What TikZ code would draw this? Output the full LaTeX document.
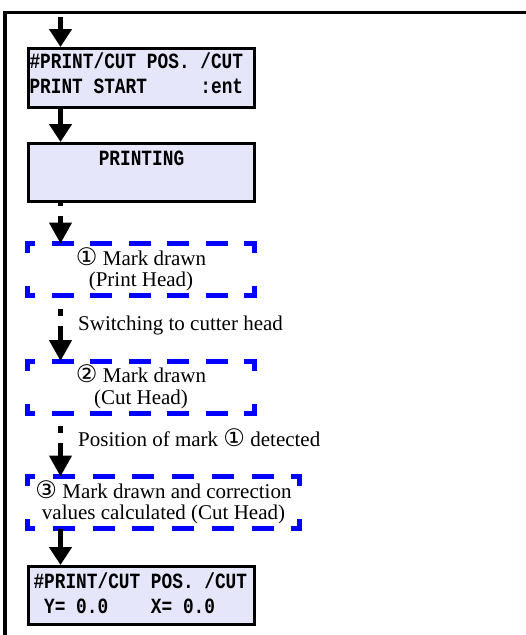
\documentclass[tikz,border=0pt]{standalone}
\usepackage{fontspec}
\usepackage{graphicx}
\setmainfont{Liberation Serif}
\newfontfamily\lcdfont{Liberation Mono}
\newfontfamily\symfont{DejaVu Sans}[Scale=1.15]
\newcommand\cnum[1]{{\symfont #1}}
\newcommand\lcdline[1]{\smash{\scalebox{1}[1.22]{#1}}}
\newcommand\ls{\hbox to 0.6001em{}}
\usetikzlibrary{arrows.meta}
\definecolor{lcdfill}{RGB}{230,230,250}
\tikzset{
  frameline/.style={line width=3.3pt, line join=miter, line cap=butt},
  lcd/.style={draw=black, line width=3pt, fill=lcdfill, minimum width=226pt,
    minimum height=59pt, inner ysep=0pt,
    font=\lcdfont\bfseries\fontsize{17.8}{25}\selectfont},
  markbox/.style={minimum width=227pt, minimum height=52pt, outer sep=0pt,
    inner sep=0pt, align=center, font=\fontsize{21}{21.5}\selectfont},
  hside/.style={draw=blue, line width=5pt, line cap=rect,
    dash pattern=on 17pt off #1, dash phase=12pt},
  vside/.style={draw=blue, line width=5pt, line cap=rect,
    dash pattern=on 14pt off 38pt, dash phase=7pt},
  flow/.style={line width=4.5pt, -{Triangle[width=22pt,length=18pt]}},
  dflow/.style={line width=4.5pt, dash pattern=on 7pt off 10pt on 16pt off 13pt,
    dash phase=#1, -{Triangle[width=22pt,length=21pt]}},
  dflow/.default=33pt,
  lbl/.style={inner sep=0pt, anchor=base west, font=\fontsize{21}{21.5}\selectfont}
}
\begin{document}
\begin{tikzpicture}[x=1pt,y=-1pt]
\useasboundingbox (0,0) rectangle (526,635);
\coordinate (fbot) at (5,635);
\coordinate (fcorner) at (5,12.3);
\coordinate (fright) at (526,12.3);
\draw[frameline] (fbot) -- (fcorner) -- (fright);
\coordinate (start) at (60.5,16.5);

\node[lcd, text width=224pt, inner xsep=1pt, align=left] (b1) at (141.5,78)
  {\rule{0pt}{15pt}\lcdline{\#PRINT/CUT\ls POS.\ls/CUT}\\\lcdline{PRINT\ls START\ls\ls\ls\ls\ls:ent}\rule[-10pt]{0pt}{10pt}};
\node[lcd, text width=224pt, inner xsep=1pt, align=center, minimum height=58pt] (b2) at (141.5,172.5)
  {\rule{0pt}{18pt}\lcdline{PRINTING}\\\rule[-7pt]{0pt}{7pt}};
\node[markbox] (d1) at (141,269.5) {\cnum{①} Mark drawn\\(Print Head)};
\node[markbox] (d2) at (141,387) {\cnum{②} Mark drawn\\(Cut Head)};
\node[markbox, minimum width=272pt] (d3) at (163.5,502.5)
  {\cnum{③} Mark drawn and correction\\values calculated (Cut Head)};
\node[lcd, text width=216pt, inner xsep=5pt, align=left, minimum height=58pt] (b4) at (141.5,595.5)
  {\rule{0pt}{18pt}\lcdline{\#PRINT/CUT\ls POS.\ls/CUT}\\\lcdline{\ls Y=\ls 0.0\ls\ls\ls\ls X=\ls 0.0}\rule[-7pt]{0pt}{7pt}};

\node[lbl] (l1) at (78,330.7) {Switching to cutter head};
\node[lbl] (l2) at (78,446.7) {Position of mark \cnum{①} detected};

% dashed borders
\draw[hside=21.5pt] (d1.north west) -- (d1.north east);
\draw[hside=21.5pt] (d1.south west) -- (d1.south east);
\draw[vside] (d1.north west) -- (d1.south west);
\draw[vside] (d1.north east) -- (d1.south east);
\draw[hside=21.5pt] (d2.north west) -- (d2.north east);
\draw[hside=21.5pt] (d2.south west) -- (d2.south east);
\draw[vside] (d2.north west) -- (d2.south west);
\draw[vside] (d2.north east) -- (d2.south east);
\draw[hside=22.75pt] (d3.north west) -- (d3.north east);
\draw[hside=22.75pt] (d3.south west) -- (d3.south east);
\draw[vside] (d3.north west) -- (d3.south west);
\draw[vside] (d3.north east) -- (d3.south east);

% connectors
\draw[flow] (start) -- (start |- b1.north);
\draw[flow] (b1.south -| start) -- (b2.north -| start);
\draw[dflow=4pt] (b2.south -| start) -- (d1.north -| start);
\draw[dflow] (d1.south -| start) -- (d2.north -| start);
\draw[dflow] (d2.south -| start) -- (d3.north -| start);
\draw[flow] (d3.south -| start) -- (b4.north -| start);
\end{tikzpicture}
\end{document}
